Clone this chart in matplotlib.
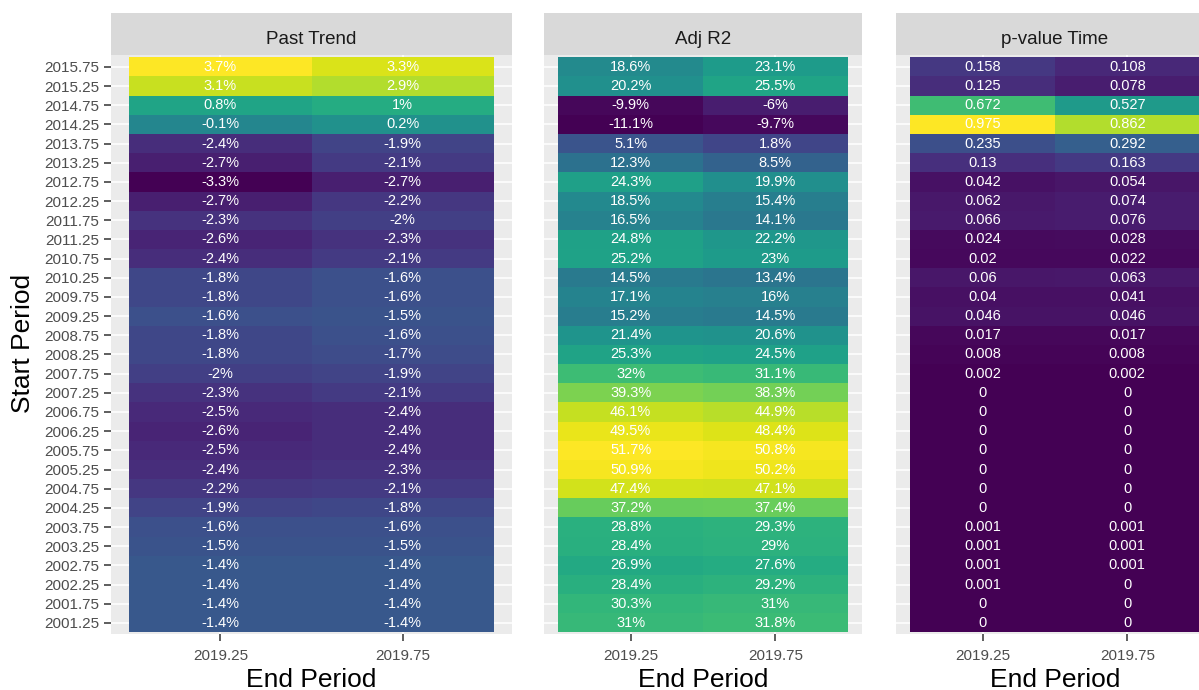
import numpy as np
import matplotlib
matplotlib.use("Agg")
import matplotlib.pyplot as plt
from matplotlib.colors import Normalize

plt.rcParams['font.family'] = ['Liberation Sans', 'DejaVu Sans']

# rows listed top to bottom
start_period = [2015.75, 2015.25, 2014.75, 2014.25, 2013.75, 2013.25, 2012.75, 2012.25,
                2011.75, 2011.25, 2010.75, 2010.25, 2009.75, 2009.25, 2008.75, 2008.25,
                2007.75, 2007.25, 2006.75, 2006.25, 2005.75, 2005.25, 2004.75, 2004.25,
                2003.75, 2003.25, 2002.75, 2002.25, 2001.75, 2001.25]
end_period = [2019.25, 2019.75]

trend_2019q1 = [3.7, 3.1, 0.8, -0.1, -2.4, -2.7, -3.3, -2.7, -2.3, -2.6, -2.4, -1.8, -1.8, -1.6, -1.8,
                -1.8, -2.0, -2.3, -2.5, -2.6, -2.5, -2.4, -2.2, -1.9, -1.6, -1.5, -1.4, -1.4, -1.4, -1.4]
trend_2019q3 = [3.3, 2.9, 1.0, 0.2, -1.9, -2.1, -2.7, -2.2, -2.0, -2.3, -2.1, -1.6, -1.6, -1.5, -1.6,
                -1.7, -1.9, -2.1, -2.4, -2.4, -2.4, -2.3, -2.1, -1.8, -1.6, -1.5, -1.4, -1.4, -1.4, -1.4]

adjr2_2019q1 = [18.6, 20.2, -9.9, -11.1, 5.1, 12.3, 24.3, 18.5, 16.5, 24.8, 25.2, 14.5, 17.1, 15.2, 21.4,
                25.3, 32.0, 39.3, 46.1, 49.5, 51.7, 50.9, 47.4, 37.2, 28.8, 28.4, 26.9, 28.4, 30.3, 31.0]
adjr2_2019q3 = [23.1, 25.5, -6.0, -9.7, 1.8, 8.5, 19.9, 15.4, 14.1, 22.2, 23.0, 13.4, 16.0, 14.5, 20.6,
                24.5, 31.1, 38.3, 44.9, 48.4, 50.8, 50.2, 47.1, 37.4, 29.3, 29.0, 27.6, 29.2, 31.0, 31.8]

pval_2019q1 = [0.158, 0.125, 0.672, 0.975, 0.235, 0.13, 0.042, 0.062, 0.066, 0.024, 0.02, 0.06, 0.04,
               0.046, 0.017, 0.008, 0.002, 0, 0, 0, 0, 0, 0, 0, 0.001, 0.001, 0.001, 0.001, 0, 0]
pval_2019q3 = [0.108, 0.078, 0.527, 0.862, 0.292, 0.163, 0.054, 0.074, 0.076, 0.028, 0.022, 0.063, 0.041,
               0.046, 0.017, 0.008, 0.002, 0, 0, 0, 0, 0, 0, 0, 0.001, 0.001, 0.001, 0, 0, 0]

panels = [
    ("Past Trend", trend_2019q1, trend_2019q3, "{:g}%"),
    ("Adj R2", adjr2_2019q1, adjr2_2019q3, "{:g}%"),
    ("p-value Time", pval_2019q1, pval_2019q3, "{:g}"),
]

W, H = 1199, 690
fig = plt.figure(figsize=(W / 100, H / 100), dpi=100)


def px_axes(x0, y0, x1, y1):
    return fig.add_axes([x0 / W, 1 - y1 / H, (x1 - x0) / W, (y1 - y0) / H])


panel_x = [(111, 512), (544, 862), (896, 1214)]
strip_top, panel_top, panel_bottom = 13, 55, 634

ys = np.array(start_period)
xs = np.array(end_period)
order = np.argsort(ys)
ys_sorted = ys[order]
dy = np.diff(ys_sorted).min()
dx = np.diff(xs).min()
y_edges = np.append(ys_sorted - dy / 2, ys_sorted[-1] + dy / 2)
x_edges = np.append(xs - dx / 2, xs[-1] + dx / 2)

for k, ((title, col1, col2, fmt), (x0, x1)) in enumerate(zip(panels, panel_x)):
    ax = px_axes(x0, panel_top, x1, panel_bottom)
    ax.set_facecolor('#EBEBEB')
    vals = np.column_stack([col1, col2])
    norm = Normalize(vals.min(), vals.max())
    ax.pcolormesh(x_edges, y_edges, vals[order], cmap='viridis', norm=norm, zorder=1)

    for i, y in enumerate(start_period):
        for j, x in enumerate(end_period):
            ax.text(x, y, fmt.format(vals[i, j]), ha='center', va='center',
                    color='white', fontsize=10.5, zorder=3)

    xpad = 0.05 * (x_edges[-1] - x_edges[0])
    ax.set_xlim(x_edges[0] - xpad, x_edges[-1] + xpad)
    ax.set_ylim(y_edges[0] - 0.04, y_edges[-1] + 0.06)
    ax.set_xticks(end_period)
    ax.set_xticklabels([f"{x:.2f}" for x in end_period])
    ax.set_yticks(start_period)
    ax.set_yticklabels([f"{y:.2f}" for y in start_period])
    ax.grid(True, color='white', linewidth=1.1)
    ax.set_axisbelow(True)
    ax.tick_params(color='#333333', length=5, width=1.1, labelcolor='#4D4D4D', labelsize=11)
    ax.tick_params(axis='x', pad=5.5)
    ax.tick_params(axis='y', pad=3.5)
    if k > 0:
        ax.tick_params(axis='y', left=False, labelleft=False)
    for sp in ax.spines.values():
        sp.set_visible(False)
    ax.text(0.5, (panel_bottom - 687) / (panel_bottom - panel_top), 'End Period',
            transform=ax.transAxes, ha='center', va='baseline', fontsize=19)

    strip = px_axes(x0, strip_top, x1, panel_top)
    strip.set_facecolor('#D9D9D9')
    strip.set_xticks([])
    strip.set_yticks([])
    for sp in strip.spines.values():
        sp.set_visible(False)
    strip.text(0.5, 0.255, title, ha='center', va='baseline', fontsize=13.5, color='#1A1A1A')

fig.text(23 / W, 1 - 343 / H, 'Start Period', rotation=90, ha='center', va='center', fontsize=19)

fig.savefig('out.png', dpi=100)
